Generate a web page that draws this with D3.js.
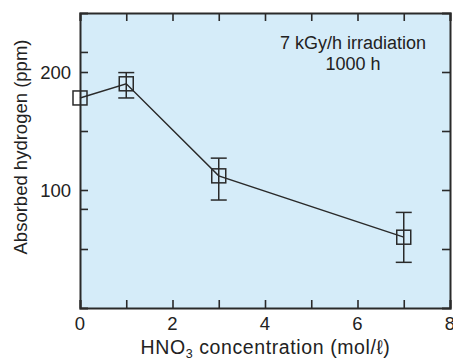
<!DOCTYPE html>
<html>
<head>
<meta charset="utf-8">
<script src="https://cdn.jsdelivr.net/npm/d3@7"></script>
<style>
  html, body { margin: 0; padding: 0; background: #fff; }
  svg { display: block; font-family: "Liberation Sans", Arial, Helvetica, sans-serif; }
</style>
</head>
<body>
<svg id="chart"></svg>
<script>
// data
const concentration = [0, 1, 3, 7]
const hydrogen = [178, 190, 112, 60]
const errLow = [null, 178, 91.5, 38.7]
const errHigh = [null, 199.5, 127, 81]

const xTicks = [0, 1, 2, 3, 4, 5, 6, 7, 8]
const xLabels = [0, 2, 4, 6, 8]
const yTicksLeft = [50, 84, 100, 150, 200, 217]
const yTicksRight = [50, 100, 150, 200]
const yLabels = [100, 200]

const width = 453, height = 361
const margin = { top: 13, right: 3, bottom: 53, left: 80 }
const ink = "#2a2a2a"

const svg = d3.select("#chart").attr("width", width).attr("height", height)

const x = d3.scaleLinear().domain([0, 8]).range([margin.left, width - margin.right])
const y = d3.scaleLinear().domain([0, 250]).range([height - margin.bottom, margin.top])

// plot background
svg.append("rect")
  .attr("x", x(0)).attr("y", y(250))
  .attr("width", x(8) - x(0)).attr("height", y(0) - y(250))
  .attr("fill", "#d5ecf9")

const TICK = 8

// inward ticks, no labels, via d3 axes
const bottomAxis = d3.axisBottom(x).tickValues(xTicks).tickSize(-TICK).tickFormat("")
const topAxis = d3.axisTop(x).tickValues(xTicks).tickSize(-TICK).tickFormat("")
const leftAxis = d3.axisLeft(y).tickValues(yTicksLeft).tickSize(-TICK).tickFormat("")
const rightAxis = d3.axisRight(y).tickValues(yTicksRight).tickSize(-TICK).tickFormat("")

const axes = [
  [bottomAxis, `translate(0,${y(0)})`],
  [topAxis, `translate(0,${y(250)})`],
  [leftAxis, `translate(${x(0)},0)`],
  [rightAxis, `translate(${x(8)},0)`]
]
axes.forEach(([ax, tr]) => {
  const g = svg.append("g").attr("transform", tr).call(ax)
  g.select(".domain").attr("stroke", ink).attr("stroke-width", 2)
  g.selectAll(".tick line").attr("stroke", ink).attr("stroke-width", 1.6)
})

// tick labels
svg.append("g").selectAll("text").data(xLabels).join("text")
  .attr("x", d => x(d)).attr("y", y(0) + 22)
  .attr("text-anchor", "middle")
  .attr("font-size", 18.5).attr("fill", "#222")
  .text(d => d)

svg.append("g").selectAll("text").data(yLabels).join("text")
  .attr("x", x(0) - 9).attr("y", d => y(d) + 6.5)
  .attr("text-anchor", "middle")
  .attr("text-anchor", "end")
  .attr("font-size", 18.5).attr("fill", "#222")
  .text(d => d)

// axis titles
const xt = svg.append("text")
  .attr("x", (137 + 394) / 2).attr("y", 354)
  .attr("text-anchor", "middle")
  .attr("font-size", 19.5).attr("letter-spacing", 0.6).attr("fill", "#222")
xt.append("tspan").text("HNO")
xt.append("tspan").attr("font-size", 12.5).attr("dy", 4).text("3")
xt.append("tspan").attr("dy", -4).text(" concentration (mol/ℓ)")

svg.append("text")
  .attr("transform", `translate(27,${(37 + 257) / 2}) rotate(-90)`)
  .attr("text-anchor", "middle")
  .attr("font-size", 18.5).attr("fill", "#222")
  .text("Absorbed hydrogen (ppm)")

// annotation
svg.append("text")
  .attr("x", 353).attr("y", 49)
  .attr("text-anchor", "middle")
  .attr("font-size", 18).attr("fill", "#222")
  .text("7 kGy/h irradiation")
svg.append("text")
  .attr("x", 353).attr("y", 70)
  .attr("text-anchor", "middle")
  .attr("font-size", 18).attr("fill", "#222")
  .text("1000 h")

// data
const points = concentration.map((c, i) => ({ c, v: hydrogen[i], lo: errLow[i], hi: errHigh[i] }))

svg.append("path")
  .datum(points)
  .attr("fill", "none").attr("stroke", ink).attr("stroke-width", 1.4)
  .attr("d", d3.line().x(d => x(d.c)).y(d => y(d.v)))

const CAP = 8
const eb = svg.append("g").selectAll("g").data(points.filter(d => d.lo != null)).join("g")
  .attr("stroke", ink).attr("stroke-width", 1.5)
eb.append("line")
  .attr("x1", d => x(d.c)).attr("x2", d => x(d.c))
  .attr("y1", d => y(d.lo)).attr("y2", d => y(d.hi))
eb.append("line")
  .attr("x1", d => x(d.c) - CAP).attr("x2", d => x(d.c) + CAP)
  .attr("y1", d => y(d.lo)).attr("y2", d => y(d.lo))
eb.append("line")
  .attr("x1", d => x(d.c) - CAP).attr("x2", d => x(d.c) + CAP)
  .attr("y1", d => y(d.hi)).attr("y2", d => y(d.hi))

const SQ = 14
svg.append("g").selectAll("rect").data(points).join("rect")
  .attr("x", d => x(d.c) - SQ / 2).attr("y", d => y(d.v) - SQ / 2)
  .attr("width", SQ).attr("height", SQ)
  .attr("fill", "none").attr("stroke", ink).attr("stroke-width", 1.5)
</script>
</body>
</html>
